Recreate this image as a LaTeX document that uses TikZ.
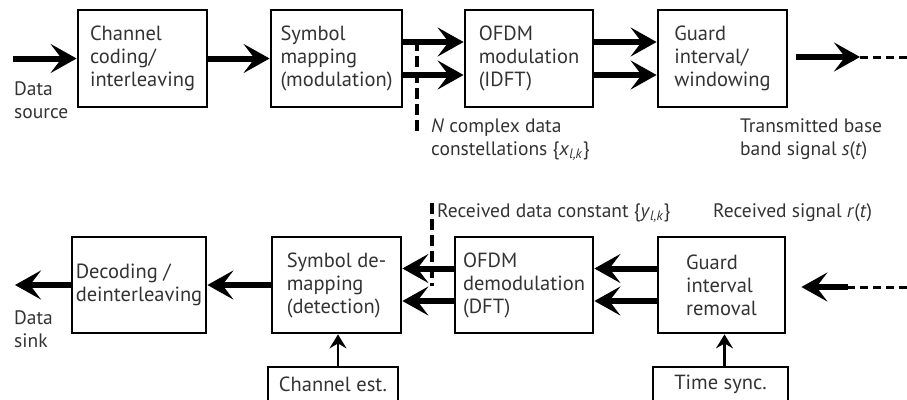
\documentclass[tikz,border=0pt]{standalone}
\usepackage{fontspec}
\setmainfont{PT Sans}
\usetikzlibrary{arrows.meta,calc}
\definecolor{ink}{HTML}{333333}
\tikzset{
  blk/.style={draw=black, line width=2.8pt, align=left, text=ink,
    font=\fontsize{20.5}{23}\selectfont, inner sep=0pt},
  lbl/.style={text=ink, align=left, inner sep=0pt, anchor=north west,
    font=\fontsize{19.5}{23}\selectfont},
  bigarrow/.style={line width=6pt, -{Stealth[length=26pt,width=29pt,inset=11pt]}},
  smallarrow/.style={line width=2.8pt, -{Stealth[length=14pt,width=17pt,inset=5pt]}},
  tail/.style={line width=3pt, dash pattern=on 8pt off 5pt},
  marker/.style={line width=3.5pt, dash pattern=on 11pt off 5pt}
}
\begin{document}
\begin{tikzpicture}[x=1pt,y=-1pt]
\useasboundingbox (0,0) rectangle (907,399);

% transmitter chain
\node[blk, minimum width=129pt, minimum height=97pt] (cc)   at (142.5,58.5) {Channel\\coding/\\interleaving};
\node[blk, minimum width=131pt, minimum height=97pt] (sm)   at (336.5,58.5) {Symbol\\mapping\\(modulation)};
\node[blk, minimum width=128pt, minimum height=97pt] (ofdm) at (529,58.5)   {OFDM\\modulation\\(IDFT)};
\node[blk, minimum width=129pt, minimum height=97pt] (gi)   at (722.5,58.5) {Guard\\interval/\\windowing};

% receiver chain
\node[blk, minimum width=134pt, minimum height=96pt] (dec)  at (139,285)   {Decoding /\\deinterleaving};
\node[blk, minimum width=129pt, minimum height=96pt] (sdm)  at (336.5,285) {Symbol de-\\mapping\\(detection)};
\node[blk, minimum width=138pt, minimum height=96pt] (odm)  at (524,285)   {OFDM\\demodulation\\(DFT)};
\node[blk, minimum width=127pt, minimum height=96pt] (gir)  at (721.5,285) {Guard\\interval\\removal};
\node[blk, minimum width=130pt, minimum height=34pt] (ce)   at (333,384)   {Channel est.};
\node[blk, minimum width=135pt, minimum height=34pt] (ts)   at (720.5,384) {Time sync.};

% free ends
\coordinate (src)   at (13,58.5);
\coordinate (outtip) at (860,57);
\coordinate (outend) at (907,57);
\coordinate (inend)  at (907,287);
\coordinate (inmid)  at (848,287);
\coordinate (sink)   at (15,285);

% transmitter arrows
\draw[bigarrow] (src) -- (cc.west);
\draw[bigarrow] (cc.east) -- (sm.west);
\draw[bigarrow] ([yshift=16.5pt]sm.east) -- ([yshift=16.5pt]ofdm.west);
\draw[bigarrow] ([yshift=-16.5pt]sm.east) -- ([yshift=-16.5pt]ofdm.west);
\draw[bigarrow] ([yshift=16.5pt]ofdm.east) -- ([yshift=16.5pt]gi.west);
\draw[bigarrow] ([yshift=-16.5pt]ofdm.east) -- ([yshift=-16.5pt]gi.west);
\draw[bigarrow] ([xshift=8pt,yshift=1.5pt]gi.east) -- (outtip);
\draw[tail] (outtip) -- (outend);

% receiver arrows
\draw[tail] (inend) -- (inmid);
\draw[bigarrow] (inmid) -- ([xshift=15pt,yshift=-2pt]gir.east);
\draw[bigarrow] ([yshift=16.5pt]gir.west) -- ([yshift=16.5pt]odm.east);
\draw[bigarrow] ([yshift=-16pt]gir.west) -- ([yshift=-16pt]odm.east);
\draw[bigarrow] ([yshift=16.5pt]odm.west) -- ([yshift=16.5pt]sdm.east);
\draw[bigarrow] ([yshift=-16pt]odm.west) -- ([yshift=-16pt]sdm.east);
\draw[bigarrow] (sdm.west) -- (dec.east);
\draw[bigarrow] (dec.west) -- (sink);
\draw[smallarrow] ([xshift=5pt]ce.north) -- ([xshift=5pt]ce.north |- sdm.south);
\draw[smallarrow] ([xshift=4pt]ts.north) -- ([xshift=4pt]ts.north |- gir.south);

% markers for the parallel data streams
\coordinate (mtop) at (417,40);
\coordinate (mbot) at (417,134);
\draw[marker] (mtop) -- (mbot);
\coordinate (rtop) at (432,203);
\coordinate (rbot) at (432,286);
\draw[marker] (rtop) -- (rbot);

% labels
\node[lbl] (lsrc)  at (14,81)   {Data\\source};
\node[lbl] (lsink) at (14,310)  {Data\\sink};
\node[lbl] (lcon)  at (431,118) {\textit{N} complex data\\constellations \{\textit{x}\textsubscript{\textit{l,k}}\}};
\node[lbl] (ltx)   at (740,118) {Transmitted base\\band signal \textit{s}(\textit{t})};
\node[lbl] (lrd)   at (437,203) {Received data constant \{\textit{y}\textsubscript{\textit{l,k}}\}};
\node[lbl] (lrs)   at (713,203) {Received signal \textit{r}(\textit{t})};
\end{tikzpicture}
\end{document}
